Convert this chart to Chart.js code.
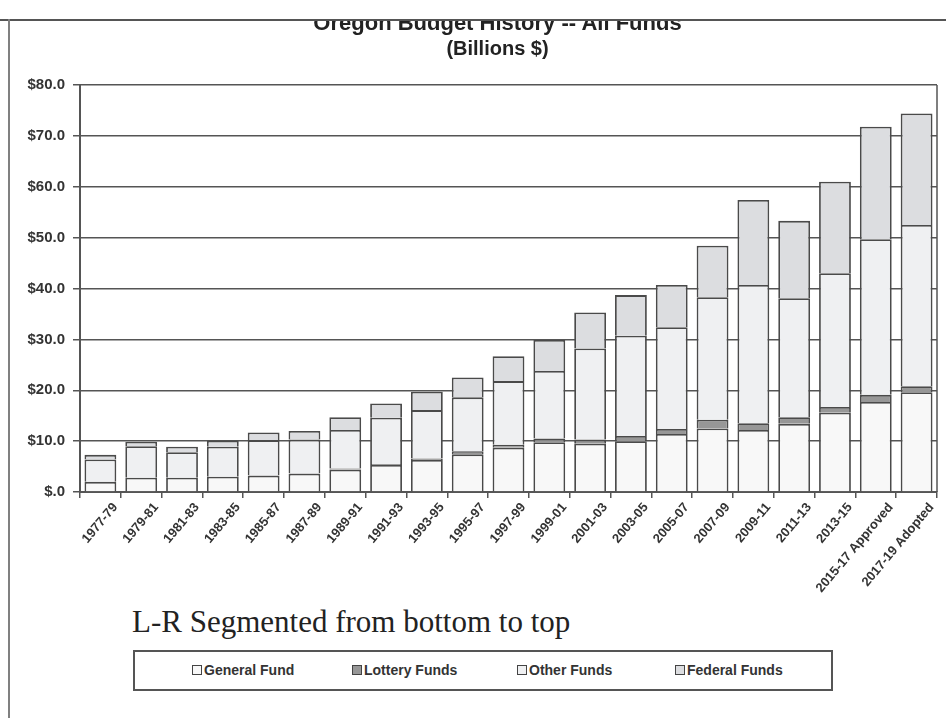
<!DOCTYPE html>
<html>
<head>
<meta charset="utf-8">
<script src="https://cdn.jsdelivr.net/npm/chart.js@4.4.0/dist/chart.umd.min.js"></script>
<style>
  html, body { margin: 0; padding: 0; background: #fff; }
  body { width: 946px; height: 718px; position: relative; overflow: hidden; }
  #wrap { position: absolute; left: 0; top: 0; width: 946px; height: 600px; }
  #title, #subtitle { position: absolute; left: 0; width: 995px; text-align: center; font-family: "Liberation Sans", Arial, sans-serif; font-weight: bold; color: #222; white-space: nowrap; }
  #title { top: 10px; font-size: 22px; line-height: 26px; }
  #subtitle { top: 36px; font-size: 20px; line-height: 24px; }
  #topcover { position: absolute; left: 0; top: 0; width: 946px; height: 19px; background: #fff; border-bottom: 2px solid #555; z-index: 5; }
  #leftline { position: absolute; left: 8px; top: 19px; width: 0; height: 700px; border-left: 2px solid #808080; z-index: 5; }
  #note { position: absolute; left: 132px; top: 602px; font-family: "Liberation Serif", "DejaVu Serif", serif; font-size: 31px; color: #222; white-space: nowrap; line-height: 40px; }
  #legend { position: absolute; left: 133px; top: 650px; width: 700px; height: 41px; border: 2px solid #555; box-sizing: border-box; }
  .item { position: absolute; top: 10px; font-family: "Liberation Sans", Arial, sans-serif; font-weight: bold; font-size: 14px; color: #333; white-space: nowrap; line-height: 17px; }
  .sw { display: inline-block; width: 8px; height: 8px; border: 1px solid #444; vertical-align: 0px; margin-right: 2px; }
</style>
</head>
<body>
<div id="wrap"><canvas id="c" width="946" height="600"></canvas></div>
<div id="title"></div>
<div id="subtitle"></div>
<div id="topcover"></div>
<div id="leftline"></div>
<div id="note">L-R Segmented from bottom to top</div>
<div id="legend"></div>
<script>
const categories = ['1977-79','1979-81','1981-83','1983-85','1985-87','1987-89','1989-91','1991-93','1993-95','1995-97','1997-99','1999-01','2001-03','2003-05','2005-07','2007-09','2009-11','2011-13','2013-15','2015-17 Approved','2017-19 Adopted'];
const generalFund  = [2.0, 2.8, 2.8, 3.0, 3.2, 3.6, 4.4, 5.3, 6.3, 7.4, 8.7, 9.8, 9.5, 10.0, 11.4, 12.5, 12.2, 13.4, 15.6, 17.7, 19.6];
const lotteryFunds = [0, 0, 0, 0, 0.1, 0.1, 0.2, 0.2, 0.3, 0.6, 0.6, 0.7, 0.8, 1.0, 1.0, 1.7, 1.3, 1.3, 1.1, 1.4, 1.2];
const otherFunds   = [4.4, 6.2, 5.0, 5.9, 6.9, 6.6, 7.6, 9.1, 9.5, 10.6, 12.5, 13.3, 17.9, 19.7, 20.0, 24.1, 27.2, 23.4, 26.3, 30.6, 31.7];
const federalFunds = [0.9, 0.9, 1.1, 1.2, 1.5, 1.7, 2.5, 2.8, 3.6, 3.9, 4.9, 6.1, 7.1, 8.0, 8.3, 10.1, 16.7, 15.2, 18.0, 22.1, 21.9];
const seriesNames  = ['General Fund', 'Lottery Funds', 'Other Funds', 'Federal Funds'];
const seriesColors = ['#f8f8f8', '#979797', '#eff0f2', '#dcdde0'];
const yTickValues  = [0, 10, 20, 30, 40, 50, 60, 70, 80];
const yTickLabels  = ['$.0', '$10.0', '$20.0', '$30.0', '$40.0', '$50.0', '$60.0', '$70.0', '$80.0'];
const titleText = 'Oregon Budget History -- All Funds';
const subtitleText = '(Billions $)';

document.getElementById('title').textContent = titleText;
document.getElementById('subtitle').textContent = subtitleText;

const seriesData = [generalFund, lotteryFunds, otherFunds, federalFunds];
const datasets = seriesNames.map((name, i) => ({
  label: name,
  data: seriesData[i],
  backgroundColor: seriesColors[i],
  borderColor: '#4a4a4a',
  borderWidth: 1.8,
  barPercentage: 0.78,
  categoryPercentage: 1.0
}));

const frame = {
  id: 'frame',
  afterDraw(chart) {
    const {ctx, chartArea} = chart;
    ctx.save();
    ctx.strokeStyle = '#555';
    ctx.lineWidth = 1.5;
    ctx.beginPath();
    ctx.moveTo(chartArea.right, chartArea.top);
    ctx.lineTo(chartArea.right, chartArea.bottom);
    ctx.stroke();
    ctx.restore();
  }
};

new Chart(document.getElementById('c'), {
  type: 'bar',
  data: { labels: categories, datasets },
  options: {
    responsive: false,
    animation: false,
    layout: { padding: { left: 0, right: 9, top: 85, bottom: 0 } },
    plugins: {
      legend: { display: false },
      tooltip: { enabled: false },
      title: { display: false },
      subtitle: { display: false }
    },
    scales: {
      x: {
        stacked: true,
        afterFit: (a) => { a.height = 108; },
        grid: { display: true, drawOnChartArea: false, drawTicks: true, tickLength: 6, color: '#555', lineWidth: 1.5, offset: true },
        border: { display: true, color: '#555', width: 2 },
        ticks: {
          autoSkip: false, minRotation: 50, maxRotation: 50, padding: 2, labelOffset: 15, color: '#333',
          font: { family: 'Liberation Sans, Arial, sans-serif', size: 13, weight: 'bold' }
        }
      },
      y: {
        stacked: true,
        min: 0, max: 80,
        afterFit: (a) => { a.width = 80; },
        afterBuildTicks: (a) => { a.ticks = yTickValues.map(v => ({ value: v })); },
        grid: { color: '#555', lineWidth: 1.5, tickLength: 7, drawTicks: true },
        border: { display: true, color: '#555', width: 2 },
        ticks: {
          padding: 8, color: '#333',
          font: { family: 'Liberation Sans, Arial, sans-serif', size: 15, weight: 'bold' },
          callback: (v) => { const i = yTickValues.indexOf(v); return i >= 0 ? yTickLabels[i] : ''; }
        }
      }
    }
  },
  plugins: [frame]
});

const legendX = [57, 217, 382, 540];
const legend = document.getElementById('legend');
seriesNames.forEach((name, i) => {
  const d = document.createElement('div');
  d.className = 'item';
  d.style.left = legendX[i] + 'px';
  const sw = document.createElement('span');
  sw.className = 'sw';
  sw.style.background = seriesColors[i];
  d.appendChild(sw);
  d.appendChild(document.createTextNode(name));
  legend.appendChild(d);
});
</script>
</body>
</html>
